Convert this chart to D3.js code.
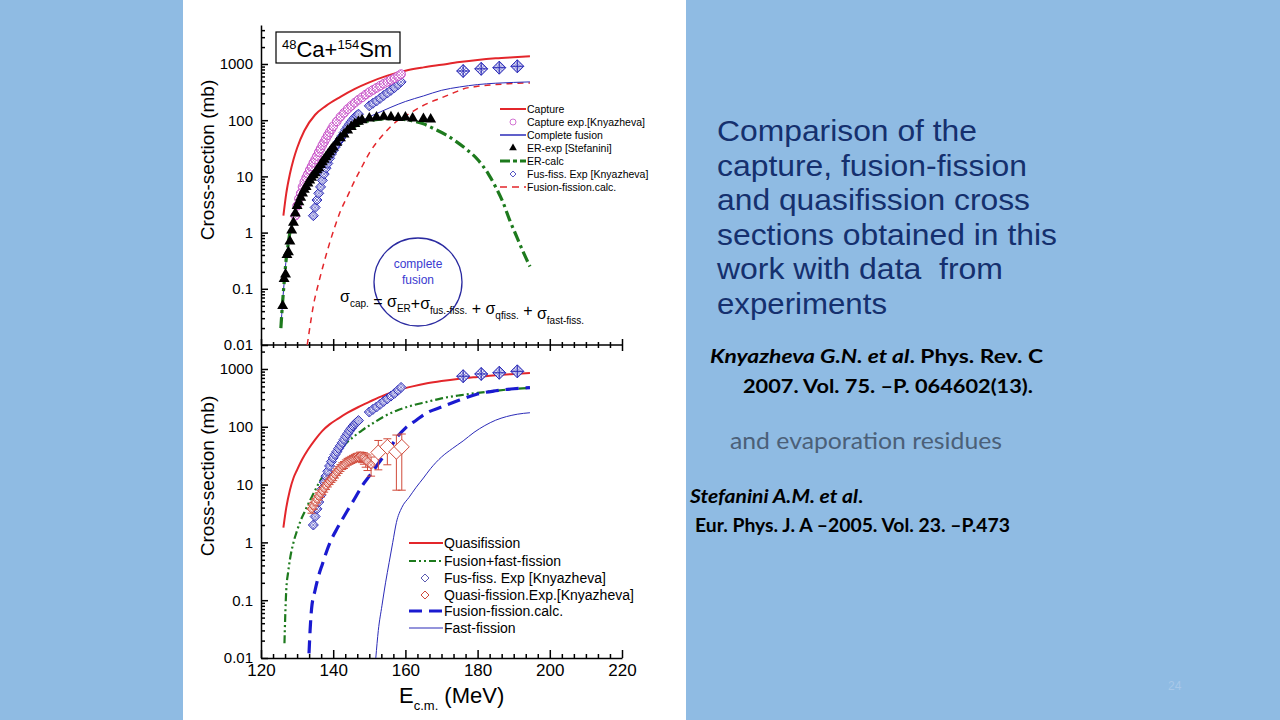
<!DOCTYPE html>
<html>
<head>
<meta charset="utf-8">
<script src="https://cdn.jsdelivr.net/npm/d3@7"></script>
<style>
  body { margin: 0; background: #8fbbe3; }
  svg { display: block; }
  .axis text { font-family: "Liberation Sans", Arial, sans-serif; font-size: 15px; fill: #000; }
  .axis line, .axis path { stroke: #000; stroke-width: 1.5px; }
</style>
</head>
<body>
<div id="chart"></div>
<script>
// ---- data (E c.m. in MeV, cross-section in mb) ----
const xTicks = [120, 140, 160, 180, 200, 220];
const yTicks = [0.01, 0.1, 1, 10, 100, 1000];

// top panel
const captureE   = [126.2, 127, 128, 129, 130, 132, 135, 138, 142, 146, 150, 155, 160, 165, 170, 175, 180, 185, 190, 194.5];
const captureS   = [2, 5, 11, 20, 32, 65, 125, 180, 260, 360, 470, 620, 760, 870, 970, 1080, 1180, 1260, 1320, 1370];

const captExpE = [129.5, 130, 130.5, 131, 131.5, 132, 132.5, 133, 133.5, 134, 134.5, 135, 135.5, 136, 136.5, 137, 137.5, 138, 138.5, 139, 139.5, 140, 141, 142, 143, 144, 145, 146, 147, 148, 149, 150, 151, 152, 153, 154, 155, 156, 157, 158, 158.8];
const captExpS = [2, 3, 4, 5, 6.5, 8, 9.5, 11, 13, 15, 17.5, 20, 23, 27, 31, 36, 41, 47, 54, 61, 69, 78, 95, 115, 135, 158, 180, 205, 230, 255, 285, 315, 345, 375, 410, 445, 480, 520, 560, 610, 660];

const complFusE = [125.5, 126, 126.5, 127, 127.5, 128, 129, 130, 132, 134, 136, 138, 140, 142, 144, 146, 148, 150, 153, 156, 160, 165, 170, 175, 180, 185, 190, 194.5];
const complFusS = [0.02, 0.06, 0.15, 0.35, 0.6, 1, 1.8, 3, 5.8, 9.5, 14, 22, 33, 48, 66, 84, 100, 115, 140, 170, 215, 270, 340, 390, 430, 455, 470, 480];

const erExpE = [126, 126.4, 126.8, 127.2, 127.6, 128, 128.5, 129, 129.5, 130, 130.5, 131, 131.5, 132, 132.5, 133, 133.5, 134, 134.5, 135, 135.5, 136, 136.5, 137, 137.5, 138, 138.5, 139, 139.5, 140, 141, 142, 143, 144, 145, 146, 147, 148, 150, 152, 154, 156, 158, 160, 162, 165, 167];
const erExpS = [0.05, 0.15, 0.18, 0.4, 0.45, 0.7, 1.1, 1.5, 2.2, 3, 3.5, 4.2, 5, 5.8, 6.5, 7.5, 8.5, 9.5, 10.5, 11.5, 13, 14, 16, 18, 20, 22, 24.5, 27, 30, 33, 40, 48, 56, 66, 76, 86, 94, 100, 108, 112, 116, 114, 110, 112, 108, 106, 104];

const erCalcE = [125.5, 126, 126.5, 127, 127.5, 128, 129, 130, 132, 134, 136, 138, 140, 142, 144, 146, 148, 150, 153, 156, 159, 162, 165, 168, 171, 174, 177, 180, 183, 185, 187, 189, 191, 193, 194.5];
const erCalcS = [0.02, 0.06, 0.15, 0.35, 0.6, 1, 1.8, 3, 5.8, 9.5, 14, 22, 33, 48, 64, 78, 90, 98, 104, 106, 104, 97, 86, 70, 56, 42, 30, 20, 11, 6.5, 3.5, 1.6, 0.8, 0.4, 0.25];

const fusFissExpE = [134.5, 135, 135.5, 136, 136.5, 137, 137.5, 138, 138.5, 139, 139.5, 140, 140.5, 141, 141.5, 142, 142.5, 143, 143.5, 144, 144.5, 145, 145.5, 146, 146.5, 147, 150, 151, 152, 153, 154, 155, 156, 157, 158, 158.8];
const fusFissExpS = [2, 2.8, 3.8, 5, 6.5, 8.5, 11, 14, 17, 21, 25, 29, 33, 37, 42, 47, 53, 60, 68, 76, 85, 94, 103, 112, 120, 128, 180, 200, 220, 245, 275, 305, 340, 380, 430, 480];
const fusFissHighE = [176, 181, 186, 191];
const fusFissHighS = [750, 820, 860, 910];

const fusFissCalcTopE = [132.8, 133.5, 134.5, 136, 137.5, 139, 140.5, 142, 144, 146, 148, 150, 152, 154, 156, 158, 161, 164, 167, 170, 173, 176, 180, 185, 190, 194.5];
const fusFissCalcTopS = [0.01, 0.02, 0.05, 0.13, 0.3, 0.65, 1.3, 2.4, 4.5, 8.5, 15, 26, 40, 57, 78, 100, 130, 170, 210, 250, 300, 360, 400, 430, 450, 460];

// bottom panel
const quasiE = [126.2, 127, 128, 129, 130, 131.5, 133, 135, 137, 139, 141.5, 144, 147, 150, 154, 158, 162, 166, 170, 175, 180, 185, 190, 194.5];
const quasiS = [1.8, 4, 8, 13, 18, 28, 40, 60, 85, 110, 140, 175, 220, 270, 350, 430, 500, 565, 620, 680, 730, 780, 820, 850];

const fusFastE = [126.5, 126.7, 127, 127.5, 128, 129, 130, 131, 132, 133, 134, 135, 136, 137, 138, 139, 140, 142, 144, 146, 148, 151, 154, 158, 162, 166, 170, 175, 180, 185, 190, 194.5];
const fusFastS = [0.018, 0.05, 0.15, 0.3, 0.5, 1, 1.6, 2.4, 3.3, 4.5, 6, 8, 10.5, 13.5, 17, 21, 26, 40, 55, 70, 87, 115, 150, 195, 235, 270, 310, 350, 385, 420, 450, 470];

const fusFissCalcE = [133.3, 133.6, 134, 135, 136, 137, 138, 139, 140, 141, 142, 144, 146, 148, 150, 152, 154, 156, 158, 160, 163, 166, 170, 175, 180, 185, 190, 194.5];
const fusFissCalcS = [0.012, 0.03, 0.07, 0.15, 0.27, 0.42, 0.65, 0.95, 1.3, 1.7, 2.2, 3.6, 5.8, 9.5, 14, 21, 31, 46, 70, 95, 130, 175, 220, 290, 370, 420, 455, 475];

const fastFissE = [151.8, 152.5, 153.5, 154.5, 155.5, 156.5, 157.5, 159, 161, 163, 165, 167, 170, 173, 176, 179, 182, 185, 188, 191, 194.5];
const fastFissS = [0.01, 0.03, 0.08, 0.2, 0.45, 1, 2.2, 4, 6, 9, 13, 19, 30, 42, 57, 80, 105, 130, 150, 165, 175];

const qfExpE   = [134, 134.5, 135, 135.5, 136, 136.5, 137, 137.5, 138, 138.5, 139, 139.5, 140, 140.5, 141, 141.5, 142, 142.5, 143, 143.5, 144, 144.5, 145, 145.5, 146, 146.5, 147, 147.5, 148, 148.5, 149, 149.5, 150.5];
const qfExpS   = [3.8, 4.3, 5, 5.6, 6.3, 7, 7.8, 8.6, 9.5, 10.5, 11.5, 12.5, 13.5, 15, 16.5, 18, 19.5, 21, 22, 23.5, 25, 26, 27, 28, 29, 30, 30, 31, 30, 29, 27, 25, 22];
const qfExpErr = [0.6, 0.6, 0.7, 0.8, 0.9, 1, 1.1, 1.2, 1.3, 1.4, 1.5, 1.6, 1.8, 2, 2.2, 2.4, 2.6, 2.8, 3, 3.2, 3.4, 3.6, 3.8, 4, 4.3, 4.6, 5, 5.5, 6, 6.5, 7, 7.5, 8];
const qfBigE  = [152.5, 155, 157.5, 159];
const qfBigS  = [36, 45, 37, 45];
const qfBigLo = [18, 22, 8, 8];
const qfBigHi = [58, 62, 72, 75];

const legendTop = ["Capture", "Capture exp.[Knyazheva]", "Complete fusion", "ER-exp [Stefanini]", "ER-calc", "Fus-fiss. Exp [Knyazheva]", "Fusion-fission.calc."];
const legendBot = ["Quasifission", "Fusion+fast-fission", "Fus-fiss. Exp [Knyazheva]", "Quasi-fission.Exp.[Knyazheva]", "Fusion-fission.calc.", "Fast-fission"];

// ---- colours / styles ----
const RED = "#e3262b", BLUE = "#2b2bb8", GREEN = "#1d7a1d", MAG = "#c850c8", QRED = "#d04a3a";
const FONT = "'Liberation Sans', Arial, sans-serif";

const svg = d3.select("#chart").append("svg")
    .attr("width", 1280).attr("height", 720);

// white panel
svg.append("rect").attr("x", 183).attr("y", 0).attr("width", 503).attr("height", 720).attr("fill", "#fff");

// hatch patterns for the experimental markers
const defs = svg.append("defs");
function hatch(id, col) {
    let p = defs.append("pattern").attr("id", id)
        .attr("patternUnits", "userSpaceOnUse").attr("width", 3).attr("height", 3);
    p.append("rect").attr("width", 3).attr("height", 3).attr("fill", "#fff");
    p.append("path").attr("d", "M0,3 L3,0 M0,0 L3,3").attr("stroke", col).attr("stroke-width", 0.6);
}
hatch("hB", BLUE); hatch("hM", MAG); hatch("hR", QRED);

// scales
const x = d3.scaleLinear().domain([120, 220]).range([261, 622]);
const yTop = d3.scaleLog().domain([0.01, 4940]).range([345, 25]);
const yBot = d3.scaleLog().domain([0.01, 2130]).range([658, 350]);

defs.append("clipPath").attr("id", "clipTop").append("rect")
    .attr("x", 261).attr("y", 25).attr("width", 361).attr("height", 320);
defs.append("clipPath").attr("id", "clipBot").append("rect")
    .attr("x", 261).attr("y", 350).attr("width", 361).attr("height", 308);

const fmt = d => d < 1 ? String(d) : d3.format("d")(d);
function minorLog(lo, hi) {
    let out = [];
    for (let e = Math.log10(lo); e < Math.log10(hi); e++)
        for (let m = 2; m <= 9; m++) {
            let v = m * Math.pow(10, e);
            if (v <= hi) out.push(v);
        }
    return out;
}
const xMinor = [];
xTicks.slice(0, -1).forEach(t => { for (let k = 1; k < 6; k++) xMinor.push(t + k * 20 / 6); });

// ---- y axes ----
function yAxis(y, lo, hi) {
    let g = svg.append("g").attr("class", "axis").attr("transform", "translate(261,0)");
    g.call(d3.axisLeft(y).tickValues(yTicks).tickSize(-7).tickSizeOuter(0).tickPadding(8).tickFormat(fmt));
    g.append("g").call(d3.axisLeft(y).tickValues(minorLog(lo, hi)).tickSize(-4).tickSizeOuter(0).tickFormat(""))
        .select(".domain").remove();
}
yAxis(yTop, 0.01, 4940);
yAxis(yBot, 0.01, 2130);

// middle shared axis (ticks cross the line)
let mid = svg.append("g").attr("class", "axis").attr("transform", "translate(0,339)");
mid.call(d3.axisBottom(x).tickValues(xTicks).tickSize(12).tickFormat(""));
mid.select(".domain").remove();
let midMinor = svg.append("g").attr("class", "axis").attr("transform", "translate(0,342)");
midMinor.call(d3.axisBottom(x).tickValues(xMinor).tickSize(6).tickFormat(""));
midMinor.select(".domain").remove();
svg.append("line").attr("x1", 261).attr("x2", 622).attr("y1", 345).attr("y2", 345)
    .attr("stroke", "#000").attr("stroke-width", 1.5);

// bottom x axis
let bx = svg.append("g").attr("class", "axis").attr("transform", "translate(0,658)");
bx.call(d3.axisBottom(x).tickValues(xTicks).tickSize(-8).tickSizeOuter(0).tickPadding(6));
bx.selectAll("text").style("font-size", "17px");
svg.append("g").attr("class", "axis").attr("transform", "translate(0,658)")
    .call(d3.axisBottom(x).tickValues(xMinor).tickSize(-4).tickFormat(""))
    .select(".domain").remove();

// axis titles
svg.append("text").attr("transform", "translate(214,160) rotate(-90)")
    .attr("text-anchor", "middle").style("font-family", FONT).style("font-size", "19px")
    .text("Cross-section (mb)");
svg.append("text").attr("transform", "translate(214,476) rotate(-90)")
    .attr("text-anchor", "middle").style("font-family", FONT).style("font-size", "19px")
    .text("Cross-section (mb)");
let xt = svg.append("text").attr("x", 399).attr("y", 703).style("font-family", FONT).style("font-size", "22px");
xt.append("tspan").text("E");
xt.append("tspan").attr("dy", 7).style("font-size", "13px").text("c.m.");
xt.append("tspan").attr("dy", -7).text(" (MeV)");

// ---- marks ----
const zip = (a, b) => a.map((v, i) => [v, b[i]]);
function curve(panel, y, E, S, col, w, dash) {
    panel.append("path").datum(zip(E, S))
        .attr("d", d3.line().x(d => x(d[0])).y(d => y(d[1])).curve(d3.curveMonotoneX))
        .attr("fill", "none").attr("stroke", col).attr("stroke-width", w)
        .attr("stroke-dasharray", dash || null);
}
const diamond = r => `M0,${-r}L${r},0L0,${r}L${-r},0Z`;

const topG = svg.append("g").attr("clip-path", "url(#clipTop)");
const botG = svg.append("g").attr("clip-path", "url(#clipBot)");

function bigDiamonds(g0, y) {
    g0.selectAll(".fh").data(zip(fusFissHighE, fusFissHighS)).join("g")
        .attr("transform", d => `translate(${x(d[0])},${y(d[1])})`)
        .each(function () {
            let g = d3.select(this);
            g.append("path").attr("d", diamond(6.5)).attr("fill", "url(#hB)").attr("stroke", BLUE).attr("stroke-width", 1);
            g.append("path").attr("d", "M-6.5,0H6.5M0,-6.5V6.5").attr("stroke", BLUE).attr("stroke-width", 1);
        });
}

// top panel
curve(topG, yTop, captureE, captureS, RED, 2);
curve(topG, yTop, fusFissCalcTopE, fusFissCalcTopS, RED, 1.5, "6,5");
curve(topG, yTop, complFusE, complFusS, BLUE, 1);
curve(topG, yTop, erCalcE, erCalcS, GREEN, 3.2, "11,4,3,4");

topG.selectAll(".fd").data(zip(fusFissExpE, fusFissExpS)).join("path")
    .attr("transform", d => `translate(${x(d[0])},${yTop(d[1])})`)
    .attr("d", diamond(5)).attr("fill", "url(#hB)").attr("stroke", BLUE).attr("stroke-width", 1);
bigDiamonds(topG, yTop);
topG.selectAll(".cm").data(zip(captExpE, captExpS)).join("circle")
    .attr("cx", d => x(d[0])).attr("cy", d => yTop(d[1])).attr("r", 4.3)
    .attr("fill", "url(#hM)").attr("stroke", MAG).attr("stroke-width", 1);
topG.selectAll(".er").data(zip(erExpE, erExpS)).join("path")
    .attr("transform", d => `translate(${x(d[0])},${yTop(d[1])})`)
    .attr("d", d3.symbol(d3.symbolTriangle, 52)).attr("fill", "#000");

// bottom panel
curve(botG, yBot, quasiE, quasiS, RED, 2);
curve(botG, yBot, fusFastE, fusFastS, GREEN, 2.2, "8,3,2,3,2,3");
curve(botG, yBot, fusFissCalcE, fusFissCalcS, "#1a1ad0", 3.2, "13,7");
curve(botG, yBot, fastFissE, fastFissS, BLUE, 1);

botG.selectAll(".fd").data(zip(fusFissExpE, fusFissExpS)).join("path")
    .attr("transform", d => `translate(${x(d[0])},${yBot(d[1])})`)
    .attr("d", diamond(5)).attr("fill", "url(#hB)").attr("stroke", BLUE).attr("stroke-width", 1);
bigDiamonds(botG, yBot);
// quasi-fission exp with error bars
const qf = qfExpE.map((e, i) => ({e: e, s: qfExpS[i], lo: qfExpS[i] - qfExpErr[i], hi: qfExpS[i] + qfExpErr[i], r: 4.5}));
const qfBig = qfBigE.map((e, i) => ({e: e, s: qfBigS[i], lo: qfBigLo[i], hi: qfBigHi[i], r: 7.5}));
const qfAll = qf.concat(qfBig);
botG.selectAll(".qe").data(qfAll).join("path")
    .attr("d", d => `M${x(d.e)},${yBot(d.lo)}V${yBot(d.hi)}M${x(d.e) - 4},${yBot(d.lo)}h8M${x(d.e) - 4},${yBot(d.hi)}h8`)
    .attr("stroke", QRED).attr("stroke-width", 1).attr("fill", "none");
botG.selectAll(".qd").data(qfAll).join("path")
    .attr("transform", d => `translate(${x(d.e)},${yBot(d.s)})`)
    .attr("d", d => diamond(d.r)).attr("fill", d => d.r > 5 ? "#fff" : "url(#hR)")
    .attr("stroke", QRED).attr("stroke-width", 1);

// ---- legends ----
const lt = svg.append("g").style("font-family", FONT).style("font-size", "10.5px");
const ltY = [109, 122, 135, 148, 161, 174, 187];
legendTop.forEach((name, i) => {
    lt.append("text").attr("x", 527).attr("y", ltY[i] + 4).text(name);
});
lt.append("line").attr("x1", 500).attr("x2", 526).attr("y1", ltY[0]).attr("y2", ltY[0]).attr("stroke", RED).attr("stroke-width", 2);
lt.append("circle").attr("cx", 513).attr("cy", ltY[1]).attr("r", 3).attr("fill", "none").attr("stroke", MAG).attr("stroke-width", 0.8);
lt.append("line").attr("x1", 500).attr("x2", 526).attr("y1", ltY[2]).attr("y2", ltY[2]).attr("stroke", BLUE).attr("stroke-width", 1.5);
lt.append("path").attr("transform", `translate(513,${ltY[3]})`).attr("d", d3.symbol(d3.symbolTriangle, 26)).attr("fill", "#000");
lt.append("line").attr("x1", 500).attr("x2", 526).attr("y1", ltY[4]).attr("y2", ltY[4]).attr("stroke", GREEN).attr("stroke-width", 3).attr("stroke-dasharray", "10,3,4,3");
lt.append("path").attr("transform", `translate(513,${ltY[5]})`).attr("d", diamond(3)).attr("fill", "none").attr("stroke", BLUE).attr("stroke-width", 0.8);
lt.append("line").attr("x1", 500).attr("x2", 526).attr("y1", ltY[6]).attr("y2", ltY[6]).attr("stroke", RED).attr("stroke-width", 1.5).attr("stroke-dasharray", "7,5");

const lb = svg.append("g").style("font-family", FONT).style("font-size", "14px");
const lbY = [543, 561, 578, 595, 611, 628];
legendBot.forEach((name, i) => {
    lb.append("text").attr("x", 444).attr("y", lbY[i] + 5).text(name);
});
lb.append("line").attr("x1", 409).attr("x2", 443).attr("y1", lbY[0]).attr("y2", lbY[0]).attr("stroke", RED).attr("stroke-width", 2);
lb.append("line").attr("x1", 409).attr("x2", 443).attr("y1", lbY[1]).attr("y2", lbY[1]).attr("stroke", GREEN).attr("stroke-width", 2).attr("stroke-dasharray", "7,3,2,3,2,3");
lb.append("path").attr("transform", `translate(425,${lbY[2]})`).attr("d", diamond(4)).attr("fill", "none").attr("stroke", "#5a5ab0").attr("stroke-width", 1);
lb.append("path").attr("transform", `translate(425,${lbY[3]})`).attr("d", diamond(4)).attr("fill", "none").attr("stroke", QRED).attr("stroke-width", 1);
lb.append("line").attr("x1", 409).attr("x2", 443).attr("y1", lbY[4]).attr("y2", lbY[4]).attr("stroke", "#1a1ad0").attr("stroke-width", 3).attr("stroke-dasharray", "13,7");
lb.append("line").attr("x1", 409).attr("x2", 443).attr("y1", lbY[5]).attr("y2", lbY[5]).attr("stroke", BLUE).attr("stroke-width", 1.2);

// ---- annotations ----
svg.append("rect").attr("x", 276).attr("y", 32).attr("width", 124).attr("height", 31)
    .attr("fill", "#fff").attr("stroke", "#000").attr("stroke-width", 1.2);
let tt = svg.append("text").attr("x", 282).attr("y", 57).style("font-family", FONT).style("font-size", "22px");
tt.append("tspan").attr("dy", -8).style("font-size", "13px").text("48");
tt.append("tspan").attr("dy", 8).text("Ca+");
tt.append("tspan").attr("dy", -8).style("font-size", "13px").text("154");
tt.append("tspan").attr("dy", 8).text("Sm");

svg.append("circle").attr("cx", 418).attr("cy", 282).attr("r", 44)
    .attr("fill", "none").attr("stroke", "#2a2aa0").attr("stroke-width", 1.3);
svg.append("text").attr("x", 418).attr("y", 268).attr("text-anchor", "middle")
    .style("font-family", FONT).style("font-size", "12px").attr("fill", "#3a3ad0").text("complete");
svg.append("text").attr("x", 418).attr("y", 284).attr("text-anchor", "middle")
    .style("font-family", FONT).style("font-size", "12px").attr("fill", "#3a3ad0").text("fusion");

let fm = svg.append("text").attr("x", 340).attr("y", 302).style("font-family", FONT).style("font-size", "16px");
const sub = (t, s) => { fm.append("tspan").text(t); fm.append("tspan").attr("dy", 5).style("font-size", "10px").text(s); fm.append("tspan").attr("dy", -5).text(""); };
sub("σ", "cap.");
fm.append("tspan").text(" = ");
sub("σ", "ER");
fm.append("tspan").attr("dy", -3).text("+"); fm.append("tspan").attr("dy", 3).text("");
sub("σ", "fus.-fiss.");
fm.append("tspan").text("  +  ");
sub("σ", "qfiss.");
fm.append("tspan").attr("dy", -3).text(" +"); fm.append("tspan").attr("dy", 3).text(" ");
sub("σ", "fast-fiss.");

// ---- slide text ----
const para = ["Comparison of the", "capture, fusion-fission", "and quasifission cross", "sections obtained in this", "work with data  from", "experiments"];
const paraW = [260, 310, 313, 340, 286, 170];
svg.append("g").selectAll("text").data(para).join("text")
    .attr("x", 717).attr("y", (d, i) => 141 + i * 34.6)
    .attr("textLength", (d, i) => paraW[i]).attr("lengthAdjust", "spacingAndGlyphs")
    .style("font-family", FONT).style("font-size", "29.5px").attr("fill", "#15306e")
    .style("white-space", "pre").text(d => d);

const REF = "Lato, 'Open Sans', sans-serif";
function refLine(xx, yy, w, size, parts, col) {
    let t = svg.append("text").attr("x", xx).attr("y", yy)
        .attr("textLength", w).attr("lengthAdjust", "spacingAndGlyphs")
        .style("font-family", REF).style("font-size", size + "px")
        .style("font-weight", col ? "normal" : "bold").attr("fill", col || "#000");
    parts.forEach(p => t.append("tspan").style("font-style", p[1] ? "italic" : "normal").text(p[0]));
}
refLine(710, 363, 333, 19, [["Knyazheva G.N. et al", 1], [". Phys. Rev. C", 0]]);
refLine(743, 393, 290, 19, [["2007. Vol. 75. –P. 064602(13).", 0]]);
refLine(730, 449, 272, 23, [["and evaporation residues", 0]], "#4b6078");
refLine(690, 503, 173, 18, [["Stefanini A.M. et al", 1], [".", 0]]);
refLine(695, 532, 315, 18, [["Eur. Phys. J. A –2005. Vol. 23. –P.473", 0]]);
svg.append("text").attr("x", 1168).attr("y", 690).style("font-family", FONT).style("font-size", "12px").attr("fill", "#a8c8e8")
    .text("24");
</script>
</body>
</html>
